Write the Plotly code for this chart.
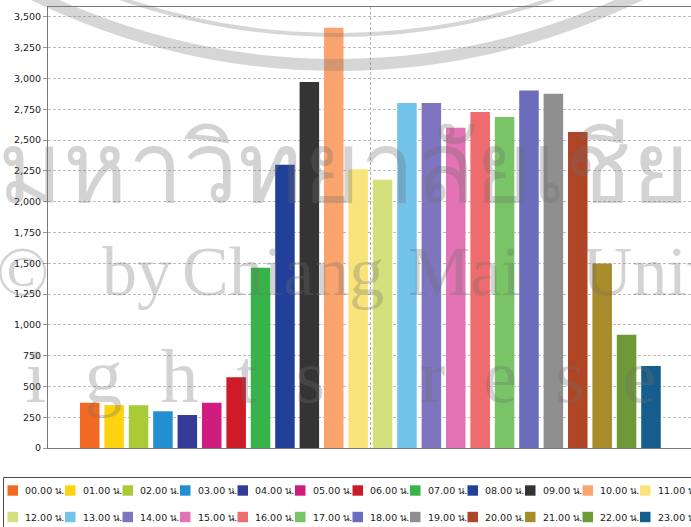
import plotly.graph_objects as go

# ---------------- data ----------------
hours = ["00.00 น.", "01.00 น.", "02.00 น.", "03.00 น.", "04.00 น.", "05.00 น.",
         "06.00 น.", "07.00 น.", "08.00 น.", "09.00 น.", "10.00 น.", "11.00 น.",
         "12.00 น.", "13.00 น.", "14.00 น.", "15.00 น.", "16.00 น.", "17.00 น.",
         "18.00 น.", "19.00 น.", "20.00 น.", "21.00 น.", "22.00 น.", "23.00 น."]
values = [367, 348, 348, 298, 268, 367, 574, 1464, 2300, 2971, 3412, 2262,
          2178, 2800, 2800, 2600, 2727, 2687, 2903, 2876, 2565, 1497, 920, 666]
colors = ["#F26A21", "#FDD20E", "#A8CB37", "#2290D0", "#343C98", "#CF1C7E",
          "#CD1B28", "#37B34A", "#22409A", "#343434", "#FBA46E", "#F9E47B",
          "#D4E07B", "#72C2EA", "#7F75BF", "#E373B4", "#EE6B6E", "#78C466",
          "#6B6CBB", "#8F8F8F", "#B04526", "#A88B2A", "#6F9838", "#155D8D"]
y_ticks = list(range(0, 3501, 250))

# watermark of the source document
wm_thai = "มหาวิทยาลัยเชียงใหม่"
wm_words = ["©", "by", "Chiang", "Mai", "University"]
wm_line3 = ["rights", "reserved"]

# ---------------- geometry (pixels) ----------------
W, H = 691, 527
PL, PT, PW, PH = 48, 7, 643, 441


def xp(px):
    return (px - PL) / PW


def yp(py):
    return (PT + PH - py) / PH


fig = go.Figure()
for i, (name, val, col) in enumerate(zip(hours, values, colors)):
    fig.add_trace(go.Bar(x=[i], y=[val], name=name, width=0.8,
                         marker=dict(color=col, line=dict(width=0)),
                         showlegend=False,
                         hovertemplate=name + ": %{y:,}<extra></extra>"))

shapes = []
annotations = []

# legend box (manual legend, built from the data arrays)
shapes.append(dict(type="rect", xref="paper", yref="paper",
                   x0=xp(3.5), x1=xp(760), y0=yp(477.5), y1=yp(600),
                   line=dict(color="#4a4a4a", width=1), fillcolor="white", layer="above"))
for i, (name, col) in enumerate(zip(hours, colors)):
    row, c = divmod(i, 12)
    left = 7.5 + 57.5 * c
    cy = 490.5 + 26.5 * row
    shapes.append(dict(type="rect", xref="paper", yref="paper",
                       x0=xp(left), x1=xp(left + 10.5), y0=yp(cy + 5.2), y1=yp(cy - 5.2),
                       line=dict(width=0), fillcolor=col, layer="above"))
    annotations.append(dict(text=name, xref="paper", yref="paper",
                            x=xp(left + 15.5), y=yp(cy), xanchor="left", yanchor="middle",
                            showarrow=False, font=dict(size=9.5, color="#1a1a1a",
                                                       family="DejaVu Sans")))

# faint watermark
wm = "rgba(110,110,110,0.30)"
for cyy, r, lw in [(-623, 688, 12), (-623, 658, 4)]:
    shapes.append(dict(type="circle", xref="paper", yref="paper",
                       x0=xp(337 - r), x1=xp(337 + r), y0=yp(cyy + r), y1=yp(cyy - r),
                       line=dict(color="rgba(120,120,120,0.30)", width=lw), layer="above"))
annotations.append(dict(text=wm_thai, xref="paper", yref="paper",
                        x=xp(-4), y=yp(164), xanchor="left", yanchor="middle",
                        showarrow=False, font=dict(size=98, color=wm, family="Noto Sans")))
for word, left in zip(wm_words, [-6, 100, 180, 406, 580]):
    annotations.append(dict(text=word, xref="paper", yref="paper",
                            x=xp(left), y=yp(271), xanchor="left", yanchor="middle",
                            showarrow=False,
                            font=dict(size=70, color=wm, family="Liberation Serif")))
annotations.append(dict(text="\u2002".join(wm_line3[0]) + "\u2003\u2005" + "\u2002".join(wm_line3[1]),
                        xref="paper", yref="paper",
                        x=xp(-40), y=yp(376), xanchor="left", yanchor="middle",
                        showarrow=False, font=dict(size=76, color=wm, family="Liberation Serif")))

fig.update_layout(
    width=W, height=H,
    margin=dict(l=PL, r=W - PL - PW, t=PT, b=H - PT - PH, pad=0),
    paper_bgcolor="white", plot_bgcolor="white",
    barmode="overlay",
    showlegend=False,
    shapes=shapes,
    annotations=annotations,
    xaxis=dict(range=[-1.71, 24.64], showticklabels=False, ticks="",
               showgrid=True, tick0=11.5, dtick=1000, gridcolor="#b5b5b5",
               griddash="3px,2px", gridwidth=1, zeroline=False,
               showline=True, linecolor="#7a7a7a", linewidth=1, mirror=True),
    yaxis=dict(range=[0, 3580], tickvals=y_ticks, tickformat=",d",
               showgrid=True, gridcolor="#bdbdbd", griddash="3px,2px", gridwidth=1,
               zeroline=False, showline=True, linecolor="#7a7a7a", linewidth=1,
               ticks="outside", ticklen=4, tickcolor="#9a9a9a",
               tickfont=dict(size=9.5, color="#1a1a1a", family="DejaVu Sans")),
)

fig.write_html("out.html", config={"displayModeBar": False},
               post_script="document.body.style.margin='0';document.body.style.overflow='hidden';")
